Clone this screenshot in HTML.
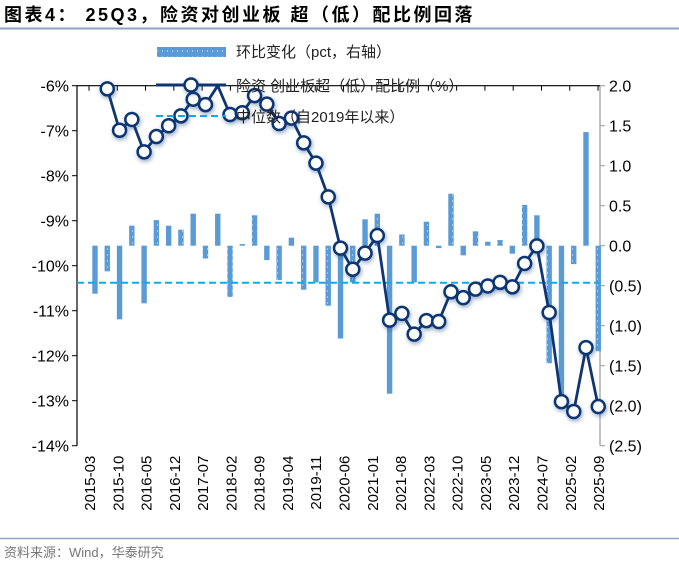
<!DOCTYPE html>
<html><head><meta charset="utf-8"><style>
body{margin:0;background:#fff;width:679px;height:569px;overflow:hidden;font-family:"Liberation Sans","Noto Sans CJK SC",sans-serif}
</style></head><body>
<svg width="679" height="569" viewBox="0 0 679 569" xmlns="http://www.w3.org/2000/svg">
<defs>
<pattern id="dots" width="5" height="6" patternUnits="userSpaceOnUse"><rect width="5" height="6" fill="#5b9bd5"/><circle cx="2.5" cy="3" r="0.6" fill="#dbe9f7"/></pattern>
<filter id="sh" x="-50%" y="-50%" width="200%" height="200%"><feDropShadow dx="1" dy="2" stdDeviation="2" flood-color="#1f3f7a" flood-opacity="0.45"/></filter>
</defs>
<text x="4" y="21" font-size="18" font-weight="bold" letter-spacing="2.5" fill="#000">图表4：  25Q3，险资对创业板 超（低）配比例回落</text>
<line x1="0" y1="28.5" x2="679" y2="28.5" stroke="#8ea4c4" stroke-width="2"/>
<g id="plot"></g>
<g>
<rect x="157" y="47" width="69" height="10" fill="url(#dots)"/>
<text x="236" y="57" font-size="15" fill="#222">环比变化（pct，右轴）</text>
<line x1="156" y1="85" x2="226" y2="85" stroke="#0f3673" stroke-width="3"/>
<circle cx="191" cy="85" r="6.5" fill="#fff" stroke="#0f3673" stroke-width="2.5" filter="url(#sh)"/>
<text x="236" y="91" font-size="15" fill="#222">险资 创业板超（低）配比例（%）</text>
<line x1="156" y1="116" x2="226" y2="116" stroke="#12a9e8" stroke-width="2" stroke-dasharray="7,4"/>
<text x="236" y="122" font-size="15" fill="#222">中位数（自2019年以来）</text>
</g>
<line x1="0" y1="538.5" x2="679" y2="538.5" stroke="#8ea4c4" stroke-width="1.5"/>
<text x="4" y="557" font-size="13" fill="#777">资料来源：Wind，华泰研究</text>
</svg>
<script>
const lineVals=[null,-6.07,-6.99,-6.75,-7.47,-7.13,-6.89,-6.67,-6.30,-6.42,-6.0,-6.64,-6.6,-6.22,-6.41,-6.84,-6.72,-7.27,-7.72,-8.47,-9.61,-10.08,-9.72,-9.33,-11.21,-11.06,-11.52,-11.22,-11.24,-10.58,-10.71,-10.52,-10.45,-10.37,-10.47,-9.95,-9.56,-11.04,-13.02,-13.24,-11.82,-13.13];
const barVals=[-0.60,-0.32,-0.92,0.25,-0.72,0.32,0.25,0.20,0.40,-0.16,0.40,-0.64,0.02,0.38,-0.18,-0.43,0.10,-0.55,-0.46,-0.75,-1.16,-0.46,0.33,0.40,-1.85,0.14,-0.46,0.30,-0.03,0.65,-0.12,0.18,0.05,0.07,-0.10,0.51,0.38,-1.47,-1.95,-0.23,1.42,-1.32];
const medianVal=-10.38;
const leftTicks=[-6,-7,-8,-9,-10,-11,-12,-13,-14];
const rightTicks=[2.0,1.5,1.0,0.5,0.0,-0.5,-1.0,-1.5,-2.0,-2.5];
const xLabels=["2015-03","2015-10","2016-05","2016-12","2017-07","2018-02","2018-09","2019-04","2019-11","2020-06","2021-01","2021-08","2022-03","2022-10","2023-05","2023-12","2024-07","2025-02","2025-09"];
const NS="http://www.w3.org/2000/svg";
const g=document.getElementById('plot');
const L=77,R=600,T=85.7,B=445.7;
const x=i=>95+i*12.275;
const yL=v=>T+(-6-v)*45;
const yR=v=>245.7-v*80;
const xm=k=>89+k*28.28;
function el(t,a,p){const e=document.createElementNS(NS,t);for(const k in a)e.setAttribute(k,a[k]);(p||g).appendChild(e);return e;}
let e=el('line',{x1:L,y1:T,x2:L,y2:B,stroke:'#000','stroke-width':1.2});


e=el('line',{x1:R,y1:T,x2:R,y2:B,stroke:'#999','stroke-width':1.2});


e=el('line',{x1:L,y1:T,x2:R,y2:T,stroke:'#000','stroke-width':1.2});


leftTicks.forEach(v=>{const y=yL(v);el('line',{x1:L-5,y1:y,x2:L,y2:y,stroke:'#000'});
const t=el('text',{x:L-8,y:y+6,'text-anchor':'end','font-size':16,fill:'#000'});t.textContent=v+'%';

});
rightTicks.forEach(v=>{const y=yR(v);el('line',{x1:R,y1:y,x2:R+5,y2:y,stroke:'#999'});
const t=el('text',{x:R+9,y:y+6,'font-size':16,fill:'#000'});t.textContent=v<0?'('+Math.abs(v).toFixed(1)+')':v.toFixed(1);

});
xLabels.forEach((s,k)=>{const xx=xm(k);el('line',{x1:xx,y1:T,x2:xx,y2:T+5,stroke:'#000'});
const t=el('text',{transform:`translate(${xx+6},${B+10}) rotate(-90)`,'text-anchor':'end','font-size':15,fill:'#000'});t.textContent=s;

});
barVals.forEach((v,i)=>{const y0=yR(0),y1=yR(v);
const b=el('rect',{x:x(i)-2.7,y:Math.min(y0,y1),width:5.4,height:Math.abs(y1-y0),fill:i%2?'url(#dots)':'#5b9bd5'});

});
e=el('line',{x1:L,y1:yL(medianVal),x2:R,y2:yL(medianVal),stroke:'#12a9e8','stroke-width':2,'stroke-dasharray':'7,4'});


let d='';lineVals.forEach((v,i)=>{if(v===null)return;d+=(d?'L':'M')+x(i)+','+yL(v);});
e=el('path',{d:d,fill:'none',stroke:'#0f3673','stroke-width':2.8,'stroke-linejoin':'round'});


lineVals.forEach((v,i)=>{if(v===null||i===10)return;
const c=el('circle',{cx:x(i),cy:yL(v),r:6.5,fill:'#fff',stroke:'#0f3673','stroke-width':2.5,filter:'url(#sh)'});

});
</script>
</body></html>
